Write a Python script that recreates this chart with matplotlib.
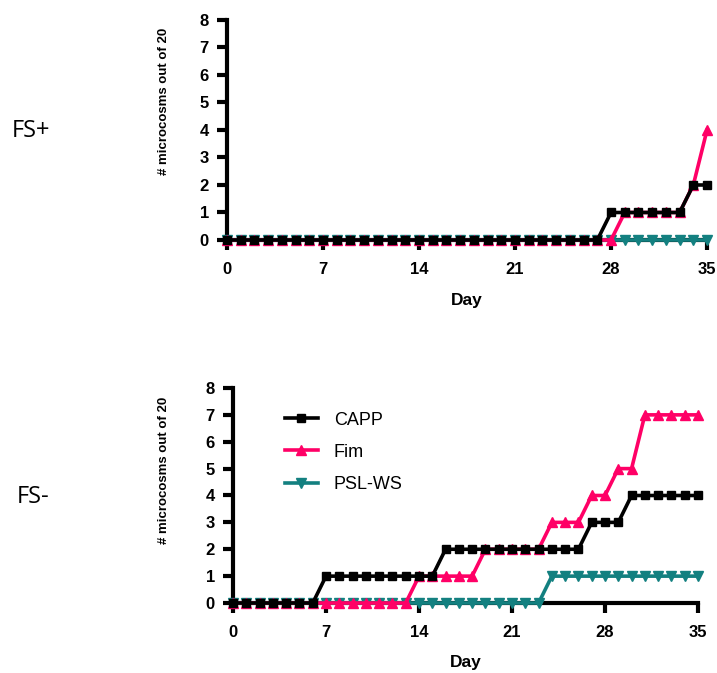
import numpy as np
import matplotlib
matplotlib.use("Agg")
import matplotlib.pyplot as plt

# Days sampled (daily, 0-35)
days = np.arange(0, 36)
day_ticks = [0, 7, 14, 21, 28, 35]
y_ticks = list(range(0, 9))

# FS+ counts (# microcosms out of 20)
fs_plus_capp = [0] * 28 + [1] * 6 + [2] * 2
fs_plus_fim = [0] * 29 + [1] * 5 + [2, 4]
fs_plus_psl = [0] * 36

# FS- counts
fs_minus_capp = [0] * 7 + [1] * 9 + [2] * 11 + [3] * 3 + [4] * 6
fs_minus_fim = [0] * 14 + [1] * 5 + [2] * 5 + [3] * 3 + [4] * 2 + [5] * 2 + [7] * 5
fs_minus_psl = [0] * 24 + [1] * 12

series_names = ["CAPP", "Fim", "PSL-WS"]
colors = {"CAPP": "#000000", "Fim": "#ff0066", "PSL-WS": "#138080"}
markers = {"CAPP": "s", "Fim": "^", "PSL-WS": "v"}

fig = plt.figure(figsize=(7.17, 6.73), dpi=100)
ax_top = fig.add_axes([0.3166, 0.6434, 0.6695, 0.3269])
ax_bot = fig.add_axes([0.325, 0.104, 0.6485, 0.3195])

# (axes, panel title, data, title x, title y, ylabel coords)
panels = [
    (ax_top, "FS+", {"CAPP": fs_plus_capp, "Fim": fs_plus_fim, "PSL-WS": fs_plus_psl},
     0.016, 0.805, (-0.119, 0.632)),
    (ax_bot, "FS-", {"CAPP": fs_minus_capp, "Fim": fs_minus_fim, "PSL-WS": fs_minus_psl},
     0.023, 0.262, (-0.136, 0.619)),
]

for ax, title, data, tx, ty, ylab_xy in panels:
    # draw order: PSL-WS under Fim under CAPP
    for name in ["PSL-WS", "Fim", "CAPP"]:
        ax.plot(days, data[name], color=colors[name], marker=markers[name],
                markersize=7 if name != "CAPP" else 6, linewidth=2.6,
                clip_on=False, label=name, zorder=3)
    ax.set_xlim(0, 35)
    ax.set_ylim(0, 8)
    ax.set_xticks(day_ticks)
    ax.set_yticks(y_ticks)
    for side in ["top", "right"]:
        ax.spines[side].set_visible(False)
    for side in ["left", "bottom"]:
        ax.spines[side].set_linewidth(3)
    ax.tick_params(axis="both", width=3, length=7, labelsize=12)
    ax.tick_params(axis="x", pad=9)
    ax.tick_params(axis="y", pad=6)
    for lab in ax.get_xticklabels() + ax.get_yticklabels():
        lab.set_fontweight("bold")
        lab.set_fontfamily("Liberation Sans")
    ax.set_xlabel("Day", fontsize=12.5, fontweight="bold", family="Liberation Sans")
    ax.xaxis.set_label_coords(0.5, -0.24)
    ax.set_ylabel("# microcosms out of 20", fontsize=9.5, fontweight="bold",
                  family="Liberation Sans")
    ax.yaxis.set_label_coords(*ylab_xy)
    fig.text(tx, ty, title, fontsize=17, family="Open Sans", va="center")

handles, labels = ax_bot.get_legend_handles_labels()
order = [labels.index(n) for n in series_names]
leg = ax_bot.legend([handles[i] for i in order], [labels[i] for i in order],
                    loc="upper left", bbox_to_anchor=(0.112, 0.89), frameon=False,
                    prop={"family": "Liberation Sans", "size": 13},
                    handlelength=1.8, labelspacing=0.84, handletextpad=0.9,
                    borderpad=0, borderaxespad=0)

fig.savefig("out.png", dpi=100)
